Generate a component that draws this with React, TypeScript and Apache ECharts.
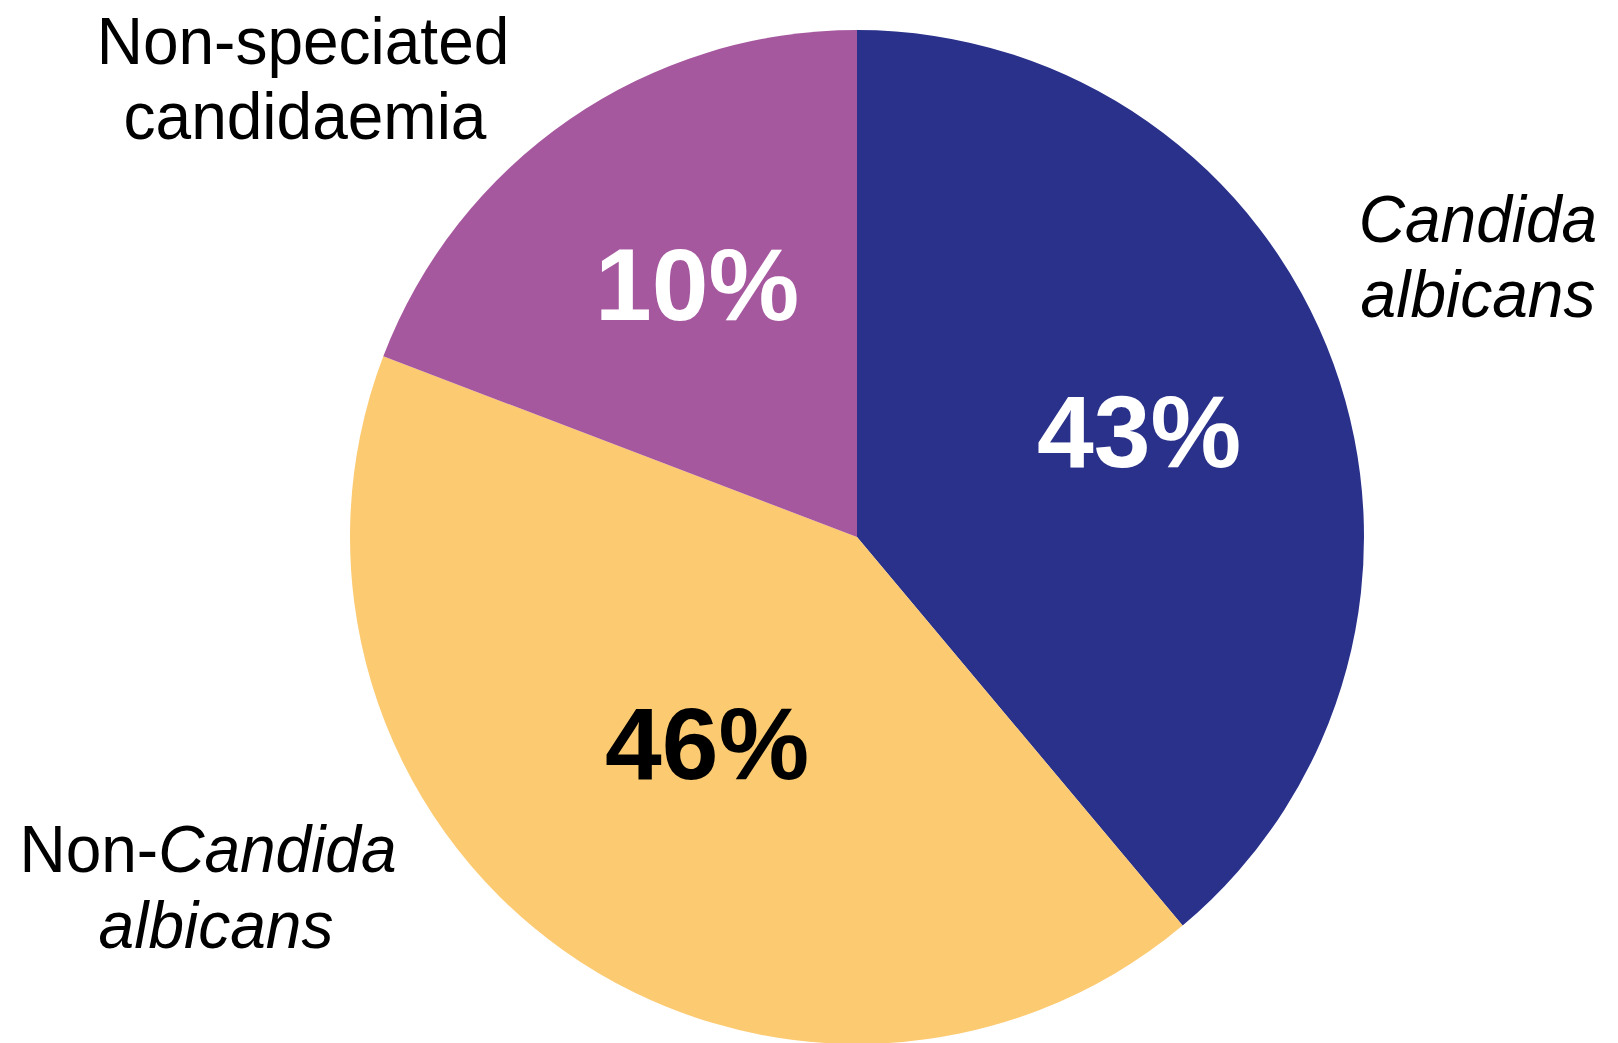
import React, { useEffect, useRef } from "react";
import * as echarts from "echarts";

const categories = ["Candida albicans", "Non-Candida albicans", "Non-speciated candidaemia"];
// slice shares as drawn in the picture (angular proportions)
const sliceShares = [38.9, 41.9, 19.2];
// percentage texts printed on the slices
const percentLabels = ["43%", "46%", "10%"];
const sliceColors = ["#29318A", "#FCCA71", "#A6589F"];
const percentColors = ["#FFFFFF", "#000000", "#FFFFFF"];

const FONT = "'Liberation Sans', Arial, Helvetica, sans-serif";

export default function App() {
  const ref = useRef<HTMLDivElement>(null);
  useEffect(() => {
    if (!ref.current) return;
    const chart = echarts.init(ref.current, null, { renderer: "svg" });
    const pctPos = [
      [1139, 432],
      [707, 744],
      [697, 285],
    ];
    const outerText = (x: number, y: number, text: string, rich: boolean) => ({
      type: "text",
      x,
      y,
      z: 100,
      scaleY: 1.04,
      style: {
        text,
        fill: "#000",
        fontFamily: FONT,
        fontSize: 64,
        align: "center",
        verticalAlign: "middle",
        ...(rich
          ? {
              rich: {
                r: { fontFamily: FONT, fontSize: 64, fontStyle: "normal", fill: "#000" },
                i: { fontFamily: FONT, fontSize: 64, fontStyle: "italic", fill: "#000" },
              },
            }
          : {}),
      },
    });
    chart.setOption({
      animation: false,
      backgroundColor: "#ffffff",
      series: [
        {
          type: "pie",
          center: [857, 537],
          radius: [0, 507],
          startAngle: 90,
          clockwise: true,
          z: 1,
          label: { show: false },
          labelLine: { show: false },
          emphasis: { disabled: true },
          itemStyle: { borderWidth: 0 },
          data: categories.map((name, i) => ({
            name,
            value: sliceShares[i],
            itemStyle: { color: sliceColors[i] },
          })),
        },
      ],
      graphic: {
        elements: [
          ...percentLabels.map((t, i) => ({
            type: "text",
            x: pctPos[i][0],
            y: pctPos[i][1],
            z: 100,
            style: {
              text: t,
              fill: percentColors[i],
              fontFamily: FONT,
              fontSize: 102,
              fontWeight: "bold",
              align: "center",
              verticalAlign: "middle",
            },
          })),
          outerText(1478, 219, "{i|Candida}", true),
          outerText(1478, 294, "{i|albicans}", true),
          outerText(303, 41, "Non-speciated", false),
          outerText(305, 116, "candidaemia", false),
          outerText(208, 849, "{r|Non-}{i|Candida}", true),
          outerText(216, 925, "{i|albicans}", true),
        ],
      },
    });
    return () => chart.dispose();
  }, []);
  return (
    <div
      ref={ref}
      style={{ position: "fixed", left: 0, top: 0, width: 1618, height: 1043, background: "#fff" }}
    />
  );
}
